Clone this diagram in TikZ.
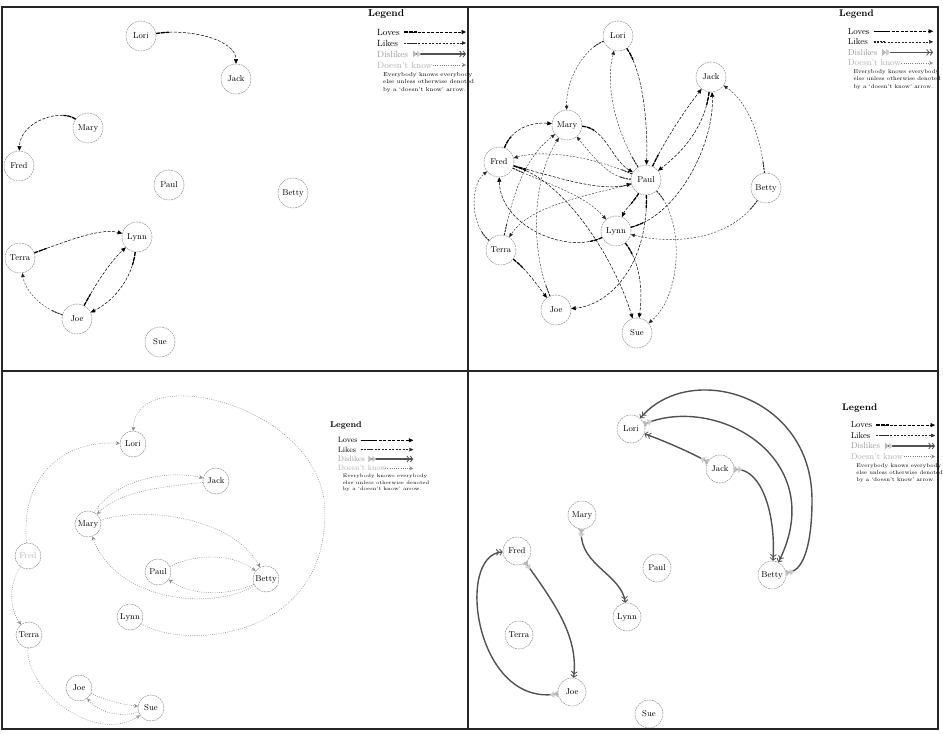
\documentclass[tikz,border=0pt]{standalone}
\usetikzlibrary{arrows.meta}
\newcommand\legendat[4]{%
  \begin{scope}[shift={(#1,#2)},scale=#3]
    \pgfmathsetmacro\lgT{10*#3}%
    \pgfmathsetmacro\lgI{9*#3}%
    \pgfmathsetmacro\lgN{5.8*#3}%
    \pgfmathsetmacro\lgL{7.5*#3}%
    \node[anchor=west,inner sep=0pt,font=\bfseries\fontsize{\lgT}{\lgT}\selectfont] (#4title) at (0,0) {Legend};
    \node[anchor=west,inner sep=0pt,font=\fontsize{\lgI}{\lgI}\selectfont] (#4a) at (9,18) {Loves};
    \node[anchor=west,inner sep=0pt,font=\fontsize{\lgI}{\lgI}\selectfont] (#4b) at (9,29) {Likes};
    \node[anchor=west,inner sep=0pt,text=gray!80,font=\fontsize{\lgI}{\lgI}\selectfont] (#4c) at (9,40) {Dislikes};
    \node[anchor=west,inner sep=0pt,text=gray!60,font=\fontsize{\lgI}{\lgI}\selectfont] (#4d) at (9,51) {Doesn't know};
    \draw[loves] (36,18) -- (98,18);
    \draw[likes] (36,29) -- (98,29);
    \draw[dislikes] (45,40) -- (98,40);
    \draw[dontknow] (65,51) -- (98,51);
    \node[anchor=north west,inner sep=0pt,align=left,font=\fontsize{\lgN}{\lgL}\selectfont] (#4note) at (15,58) {Everybody knows everybody\\else unless otherwise denoted\\by a `doesn't know' arrow.};
  \end{scope}}
\begin{document}
\begin{tikzpicture}[x=1pt,y=-1pt,
  person/.style={circle, draw=gray!85, line width=0.5pt, dash pattern=on 2pt off 0.8pt, minimum size=#1, inner sep=0pt, font=\fontsize{8.5}{9.5}\selectfont},
  person/.default=30pt,
  loves/.style={draw=black, line width=0.5pt, dash pattern=on 3pt off 1.5pt, -{Triangle[length=4.5pt,width=4pt]},
    postaction={draw, -, line width=1.3pt, dash pattern=on 4pt off 1pt on 4pt off 1pt on 3pt off 3000pt}},
  likes/.style={draw=black!85, line width=0.4pt, dash pattern=on 2pt off 1.5pt, -{Triangle[length=4pt,width=3.5pt]},
    postaction={draw, -, line width=0.9pt, dash pattern=on 2pt off 1pt on 2pt off 1pt on 2pt off 1pt on 2pt off 3000pt}},
  dislikes/.style={draw=black!68, line width=1.4pt,
    {Triangle[reversed,length=4pt,width=6.5pt,color=gray!55,fill=gray!55] Triangle[reversed,length=4pt,width=6.5pt,color=gray!40,fill=gray!40]}-{Straight Barb[length=2.5pt,width=6pt,line width=0.8pt] Straight Barb[length=2.5pt,width=6pt,line width=0.8pt]}},
  dontknow/.style={draw=black!50, line width=0.5pt, dash pattern=on 0.8pt off 1.4pt, -{Stealth[open,length=4pt,width=4pt]}},
  frameline/.style={draw=black!85, line width=2pt}
]
\useasboundingbox (0,0) rectangle (943,735);
\fill[white] (0,0) rectangle (943,735);

% ---------------- Panel 1 (top left)
\node[person] (aLori) at (141,36) {Lori};
\node[person] (aJack) at (236,79) {Jack};
\node[person] (aMary) at (88,128) {Mary};
\node[person] (aFred) at (19,166) {Fred};
\node[person] (aPaul) at (169,185) {Paul};
\node[person] (aBetty) at (293,193) {Betty};
\node[person] (aLynn) at (137,237) {Lynn};
\node[person] (aTerra) at (20,258) {Terra};
\node[person] (aJoe) at (77,319) {Joe};
\node[person] (aSue) at (160,342) {Sue};
\draw[loves] (aLori) .. controls (190,28) and (236,40) .. (aJack);
\draw[loves] (aMary) .. controls (60,108) and (20,122) .. (aFred);
\draw[loves] (aTerra) .. controls (70,240) and (100,228) .. (aLynn);
\draw[loves] (aJoe) .. controls (95,285) and (110,262) .. (aLynn);
\draw[loves] (aLynn) .. controls (132,280) and (112,302) .. (aJoe);
\draw[likes] (aJoe) .. controls (40,308) and (25,290) .. (aTerra);
\legendat{368}{14}{1}{la}

% ---------------- Panel 2 (top right)
\node[person] (bLori) at (618,36) {Lori};
\node[person] (bJack) at (711,77) {Jack};
\node[person] (bMary) at (567,125) {Mary};
\node[person] (bFred) at (499,162) {Fred};
\node[person] (bPaul) at (646,180) {Paul};
\node[person] (bBetty) at (766,188) {Betty};
\node[person] (bLynn) at (616,231) {Lynn};
\node[person] (bTerra) at (501,250) {Terra};
\node[person] (bJoe) at (556,310) {Joe};
\node[person] (bSue) at (637,333) {Sue};
\draw[likes] (bLori) .. controls (585,48) and (566,78) .. (bMary);
\draw[likes] (bPaul) .. controls (615,130) and (605,85) .. (bLori);
\draw[loves] (bLori) .. controls (642,70) and (648,120) .. (bPaul);
\draw[loves] (bMary) .. controls (605,128) and (612,160) .. (bPaul);
\draw[likes] (bPaul) .. controls (608,178) and (592,155) .. (bMary);
\draw[loves] (bFred) .. controls (512,128) and (532,122) .. (bMary);
\draw[likes] (bTerra) .. controls (512,200) and (522,160) .. (bMary);
\draw[likes] (bJoe) .. controls (530,250) and (532,180) .. (bMary);
\draw[likes] (bPaul) .. controls (600,160) and (550,148) .. (bFred);
\draw[loves] (bFred) .. controls (560,178) and (600,192) .. (bPaul);
\draw[likes] (bFred) .. controls (550,185) and (585,195) .. (bLynn);
\draw[loves] (bLynn) .. controls (565,255) and (500,225) .. (bFred);
\draw[loves] (bFred) .. controls (565,180) and (615,260) .. (bSue);
\draw[likes] (bTerra) .. controls (470,225) and (470,185) .. (bFred);
\draw[loves] (bTerra) .. controls (525,268) and (535,282) .. (bJoe);
\draw[likes] (bPaul) .. controls (590,195) and (530,205) .. (bTerra);
\draw[loves] (bPaul) .. controls (635,200) and (625,210) .. (bLynn);
\draw[loves] (bLynn) .. controls (680,215) and (715,140) .. (bJack);
\draw[likes] (bBetty) .. controls (730,240) and (675,245) .. (bLynn);
\draw[loves] (bPaul) .. controls (648,265) and (610,305) .. (bJoe);
\draw[loves] (bLynn) .. controls (640,262) and (643,290) .. (bSue);
\draw[likes] (bPaul) .. controls (685,220) and (682,295) .. (bSue);
\draw[loves] (bPaul) .. controls (665,140) and (685,110) .. (bJack);
\draw[loves] (bJack) .. controls (705,125) and (685,150) .. (bPaul);
\draw[likes] (bBetty) .. controls (760,130) and (745,100) .. (bJack);
\legendat{839}{14}{0.96}{lb}

% ---------------- Panel 3 (bottom left)
\begin{scope}[every node/.append style={font=\fontsize{7.5}{8.5}\selectfont}]
\node[person=26pt] (cLori) at (133,444) {Lori};
\node[person=26pt] (cJack) at (216,481) {Jack};
\node[person=26pt] (cMary) at (88,524) {Mary};
\node[person=26pt] (cPaul) at (158,572) {Paul};
\node[person=26pt] (cBetty) at (266,579) {Betty};
\node[person=26pt] (cLynn) at (130,617) {Lynn};
\node[person=26pt,text=gray!55] (cFred) at (28,556) {Fred};
\node[person=26pt] (cTerra) at (29,635) {Terra};
\node[person=26pt] (cJoe) at (79,688) {Joe};
\node[person=26pt] (cSue) at (151,708) {Sue};
\end{scope}
\draw[dontknow] (cLynn) .. controls (185,650) and (325,640) .. (325,513) .. controls (325,405) and (135,360) .. (cLori);
\draw[dontknow] (cFred) .. controls (20,480) and (60,440) .. (cLori);
\draw[dontknow] (cFred) .. controls (8,585) and (10,610) .. (cTerra);
\draw[dontknow] (cTerra) .. controls (25,690) and (95,745) .. (cSue);
\draw[dontknow] (cJoe) .. controls (105,700) and (120,704) .. (cSue);
\draw[dontknow] (cSue) .. controls (120,718) and (98,712) .. (cJoe);
\draw[dontknow] (cMary) .. controls (110,485) and (160,468) .. (cJack);
\draw[dontknow] (cJack) .. controls (170,486) and (120,490) .. (cMary);
\draw[dontknow] (cMary) .. controls (150,505) and (235,520) .. (cBetty);
\draw[dontknow] (cBetty) .. controls (210,612) and (115,600) .. (cMary);
\draw[dontknow] (cPaul) .. controls (200,552) and (235,555) .. (cBetty);
\draw[dontknow] (cBetty) .. controls (225,597) and (190,595) .. (cPaul);
\legendat{330}{425}{0.85}{lc}

% ---------------- Panel 4 (bottom right)
\begin{scope}[every node/.append style={font=\fontsize{8}{9}\selectfont}]
\node[person=28pt] (dLori) at (631,429) {Lori};
\node[person=28pt] (dJack) at (720,469) {Jack};
\node[person=28pt] (dMary) at (582,515) {Mary};
\node[person=28pt] (dFred) at (517,551) {Fred};
\node[person=28pt] (dPaul) at (657,568) {Paul};
\node[person=28pt] (dBetty) at (772,575) {Betty};
\node[person=28pt] (dLynn) at (627,617) {Lynn};
\node[person=28pt] (dTerra) at (519,635) {Terra};
\node[person=28pt] (dJoe) at (572,692) {Joe};
\node[person=28pt] (dSue) at (649,714) {Sue};
\end{scope}
\draw[dislikes] (dBetty) .. controls (805,570) and (812,540) .. (812,500) .. controls (812,395) and (690,360) .. (dLori);
\draw[dislikes] (dLori) .. controls (720,395) and (830,460) .. (dBetty);
\draw[dislikes] (dJack) .. controls (690,452) and (662,440) .. (dLori);
\draw[dislikes] (dJack) .. controls (762,470) and (776,515) .. (dBetty);
\draw[dislikes] (dMary) .. controls (580,565) and (622,575) .. (dLynn);
\draw[dislikes] (dFred) .. controls (560,610) and (578,640) .. (dJoe);
\draw[dislikes] (dJoe) .. controls (475,705) and (455,555) .. (dFred);
\legendat{842}{408}{0.95}{ld}

% ---------------- Frames
\draw[frameline] (2,7) rectangle (938,729);
\draw[frameline] (468,7) -- (468,729);
\draw[frameline] (2,371) -- (938,371);
\end{tikzpicture}
\end{document}
